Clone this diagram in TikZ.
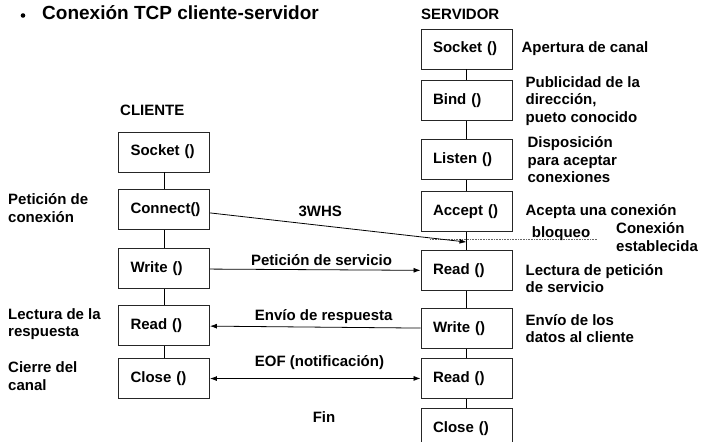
\documentclass[tikz,border=0pt]{standalone}
\usepackage{fontspec}
\setmainfont{Liberation Sans}
\usetikzlibrary{arrows.meta, positioning, calc}

\begin{document}
\begin{tikzpicture}[x=1pt, y=-1pt, auto,
    every node/.style={font=\bfseries\fontsize{15}{17.5}\selectfont},
    caja/.style={draw=black!85, line width=0.9pt, minimum height=40pt, text width=67pt, inner xsep=12pt, align=left},
    nota/.style={align=left, inner sep=0pt},
    flecha/.style={-{Latex[length=7pt, width=5pt]}, line width=0.8pt},
    flechas/.style={{Latex[length=7pt, width=5pt]}-{Latex[length=7pt, width=5pt]}, line width=0.8pt}]
    \useasboundingbox (0,0) rectangle (702,442);

    \node[nota, anchor=west, font=\bfseries\fontsize{19}{22}\selectfont] (titulo) at (42,13) {Conexión TCP cliente-servidor};
    \fill ([xshift=-19pt, yshift=-2.5pt]titulo.west) circle (2.3pt);

    \node[nota, anchor=west] (servidor) at (421,14) {SERVIDOR};
    \node[caja] (ssocket) at (466.5,49) {Socket ()};
    \node[caja, below=11pt of ssocket] (sbind) {Bind ()};
    \node[caja, below=18pt of sbind] (slisten) {Listen ()};
    \node[caja, below=11pt of slisten] (saccept) {Accept ()};
    \node[caja, below=18pt of saccept] (sread) {Read ()};
    \node[caja, below=17pt of sread] (swrite) {Write ()};
    \node[caja, below=9pt of swrite] (sread2) {Read ()};
    \node[caja, below=9pt of sread2] (sclose) {Close ()};

    \node[nota, anchor=west] (cliente) at (120,110) {CLIENTE};
    \node[caja] (csocket) at (164,152) {Socket ()};
    \node[caja, below=17pt of csocket] (cconnect) {Connect()};
    \node[caja, below=18pt of cconnect] (cwrite) {Write ()};
    \node[caja, below=16pt of cwrite] (cread) {Read ()};
    \node[caja, below=12pt of cread] (cclose) {Close ()};

    \foreach \a/\b in {ssocket/sbind, sbind/slisten, slisten/saccept, saccept/sread, sread/swrite, swrite/sread2, sread2/sclose, csocket/cconnect, cconnect/cwrite, cwrite/cread, cread/cclose}
        \draw[line width=0.8pt] (\a) -- (\b);

    \node[nota, right=9pt of ssocket] (apertura) {Apertura de canal};
    \node[nota, right=13pt of sbind] (publicidad) {Publicidad de la\\dirección,\\pueto conocido};
    \node[nota, right=15pt of slisten] (disposicion) {Disposición\\para aceptar\\conexiones};
    \node[nota, right=13pt of saccept] (acepta) {Acepta una conexión};
    \node[nota, right=13pt of sread, yshift=-8pt] (lectura) {Lectura de petición\\de servicio};
    \node[nota, right=13pt of swrite] (envio) {Envío de los\\datos al cliente};

    \node[nota, anchor=west] (peticion) at (8,208) {Petición de\\conexión};
    \node[nota, anchor=west] (respuesta) at (8,324) {Lectura de la\\respuesta};
    \node[nota, anchor=west] (cierre) at (8,376) {Cierre del\\canal};

    \coordinate (espera) at ($(saccept.south)!0.55!(sread.north)$);
    \coordinate (bl) at (430,239);
    \coordinate (br) at (597,239);
    \draw[densely dotted, black!60, line width=0.6pt] (bl) -- (br);
    \node[nota] (bloqueo) at (561,234) {bloqueo};
    \node[nota, anchor=west] (establecida) at (616,237) {Conexión\\establecida};

    \draw[flecha] ([yshift=-3pt]cconnect.east) -- node[above=5pt, pos=0.43] {3WHS} (espera);
    \draw[flecha] (cwrite) -- node[above, pos=0.53] {Petición de servicio} (sread);
    \draw[flecha] (swrite) -- node[above, pos=0.46] {Envío de respuesta} (cread);
    \draw[flechas] (cclose) -- node[above=5pt, pos=0.52] {EOF (notificación)} (sread2);

    \node[nota] (fin) at (324,417) {Fin};
\end{tikzpicture}
\end{document}
